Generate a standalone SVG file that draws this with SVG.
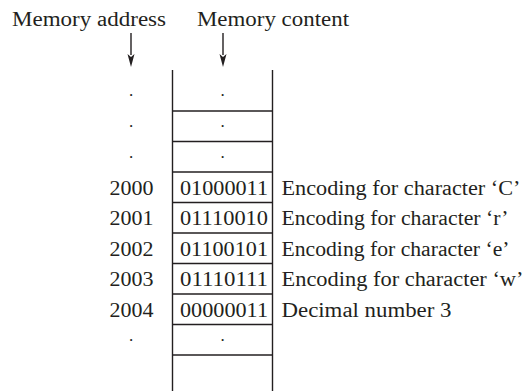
<svg xmlns="http://www.w3.org/2000/svg" width="525" height="391" viewBox="0 0 525 391">
<style>
text{font-family:"Liberation Serif","Times New Roman",serif;font-size:20px;fill:#231f20}
.m{text-anchor:middle}
.d{font-size:17px}
.ln{stroke:#231f20;stroke-width:1.4;fill:none}
</style>
<rect width="525" height="391" fill="#fff"/>
<g id="headers">
<text x="12" y="26" textLength="154" lengthAdjust="spacingAndGlyphs">Memory address</text>
<text x="197" y="26" textLength="152" lengthAdjust="spacingAndGlyphs">Memory content</text>
</g>
<g id="connectors">
<line class="ln" x1="131" y1="33" x2="131" y2="55"/>
<path d="M127.5,54 L131,57 L134.5,54 L131,67 Z" fill="#231f20"/>
<line class="ln" x1="223" y1="33" x2="223" y2="55"/>
<path d="M219.5,54 L223,57 L226.5,54 L223,67 Z" fill="#231f20"/>
</g>
<g id="memory">
<line class="ln" x1="172.5" y1="70" x2="172.5" y2="391"/>
<line class="ln" x1="272.5" y1="70" x2="272.5" y2="391"/>
<line class="ln" x1="172" y1="111" x2="273" y2="111"/>
<line class="ln" x1="172" y1="141.5" x2="273" y2="141.5"/>
<line class="ln" x1="172" y1="172" x2="273" y2="172" stroke-width="1.8"/>
<line class="ln" x1="172" y1="202.5" x2="273" y2="202.5"/>
<line class="ln" x1="172" y1="233" x2="273" y2="233"/>
<line class="ln" x1="172" y1="263.5" x2="273" y2="263.5"/>
<line class="ln" x1="172" y1="294" x2="273" y2="294"/>
<line class="ln" x1="172" y1="324.5" x2="273" y2="324.5"/>
<line class="ln" x1="172" y1="355" x2="273" y2="355"/>
</g>
<g id="dots">
<text class="m d" x="131" y="96">.</text>
<text class="m d" x="222.5" y="96">.</text>
<text class="m d" x="131" y="127">.</text>
<text class="m d" x="222.5" y="127">.</text>
<text class="m d" x="131" y="158">.</text>
<text class="m d" x="222.5" y="158">.</text>
<text class="m d" x="131" y="341">.</text>
<text class="m d" x="222.5" y="341">.</text>
</g>
<g id="row2000">
<text x="109.5" y="194.5" textLength="44" lengthAdjust="spacingAndGlyphs">2000</text>
<text x="180" y="194.5" textLength="88" lengthAdjust="spacingAndGlyphs">01000011</text>
<text x="281.5" y="194.5" textLength="239" lengthAdjust="spacingAndGlyphs">Encoding for character ‘C’</text>
</g>
<g id="row2001">
<text x="109.5" y="225" textLength="44" lengthAdjust="spacingAndGlyphs">2001</text>
<text x="180" y="225" textLength="88" lengthAdjust="spacingAndGlyphs">01110010</text>
<text x="281.5" y="225" textLength="227" lengthAdjust="spacingAndGlyphs">Encoding for character ‘r’</text>
</g>
<g id="row2002">
<text x="109.5" y="255.5" textLength="44" lengthAdjust="spacingAndGlyphs">2002</text>
<text x="180" y="255.5" textLength="88" lengthAdjust="spacingAndGlyphs">01100101</text>
<text x="281.5" y="255.5" textLength="228" lengthAdjust="spacingAndGlyphs">Encoding for character ‘e’</text>
</g>
<g id="row2003">
<text x="109.5" y="286" textLength="44" lengthAdjust="spacingAndGlyphs">2003</text>
<text x="180" y="286" textLength="88" lengthAdjust="spacingAndGlyphs">01110111</text>
<text x="281.5" y="286" textLength="242" lengthAdjust="spacingAndGlyphs">Encoding for character ‘w’</text>
</g>
<g id="row2004">
<text x="109.5" y="316.5" textLength="44" lengthAdjust="spacingAndGlyphs">2004</text>
<text x="180" y="316.5" textLength="88" lengthAdjust="spacingAndGlyphs">00000011</text>
<text x="281.5" y="316.5" textLength="170" lengthAdjust="spacingAndGlyphs">Decimal number 3</text>
</g>
</svg>
